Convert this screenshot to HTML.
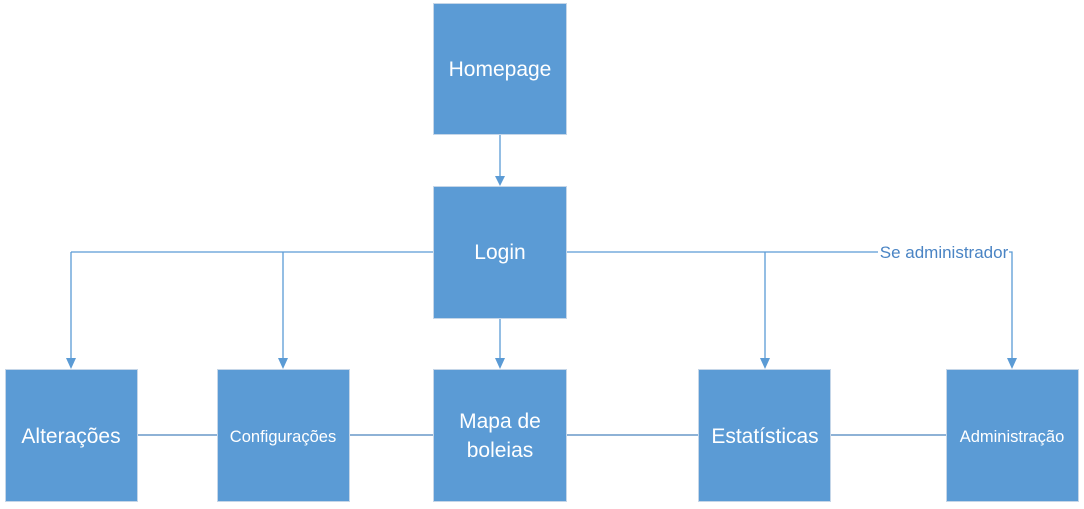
<!DOCTYPE html>
<html><head><meta charset="utf-8"><style>
html,body{margin:0;padding:0;background:#fff;width:1084px;height:509px;overflow:hidden}
text{font-family:"Liberation Sans",sans-serif;fill:#fff}
</style></head><body>
<svg width="1084" height="509" xmlns="http://www.w3.org/2000/svg">
<g stroke="#5b9bd5" stroke-width="1.3" fill="none">
<line x1="500" y1="134" x2="500" y2="178"/>
<line x1="433" y1="252" x2="71" y2="252"/>
<line x1="71" y1="252" x2="71" y2="360"/>
<line x1="283" y1="252" x2="283" y2="360"/>
<line x1="500" y1="318" x2="500" y2="360"/>
<line x1="566" y1="252" x2="878" y2="252"/>
<line x1="765" y1="252" x2="765" y2="360"/>
<polyline points="1009,252 1012,252 1012,360"/>
<line x1="137" y1="435" x2="946" y2="435" stroke="#4a84bd"/>
</g>
<g fill="#5b9bd5">
<polygon points="495,176 505,176 500,186"/>
<polygon points="66,358 76,358 71,369"/>
<polygon points="278,358 288,358 283,369"/>
<polygon points="495,358 505,358 500,369"/>
<polygon points="760,358 770,358 765,369"/>
<polygon points="1007,358 1017,358 1012,369"/>
</g>
<g fill="#5b9bd5" stroke="#c5d6e8" stroke-width="1">
<rect x="433.5" y="3.5" width="133" height="131"/>
<rect x="433.5" y="186.5" width="133" height="132"/>
<rect x="5.5" y="369.5" width="132" height="132"/>
<rect x="217.5" y="369.5" width="132" height="132"/>
<rect x="433.5" y="369.5" width="133" height="132"/>
<rect x="698.5" y="369.5" width="132" height="132"/>
<rect x="946.5" y="369.5" width="132" height="132"/>
</g>
<text x="500" y="76" font-size="21" text-anchor="middle">Homepage</text>
<text x="500" y="259" font-size="21" text-anchor="middle">Login</text>
<text x="71" y="443" font-size="21" text-anchor="middle">Alterações</text>
<text x="283" y="442" font-size="16.5" text-anchor="middle">Configurações</text>
<text x="500" y="428" font-size="21" text-anchor="middle">Mapa de</text>
<text x="500" y="457" font-size="21" text-anchor="middle">boleias</text>
<text x="765" y="443" font-size="21" text-anchor="middle">Estatísticas</text>
<text x="1012" y="442" font-size="16.5" text-anchor="middle">Administração</text>
<text x="944" y="258" font-size="17" text-anchor="middle" style="fill:#4a84c4">Se administrador</text>
</svg>
</body></html>
